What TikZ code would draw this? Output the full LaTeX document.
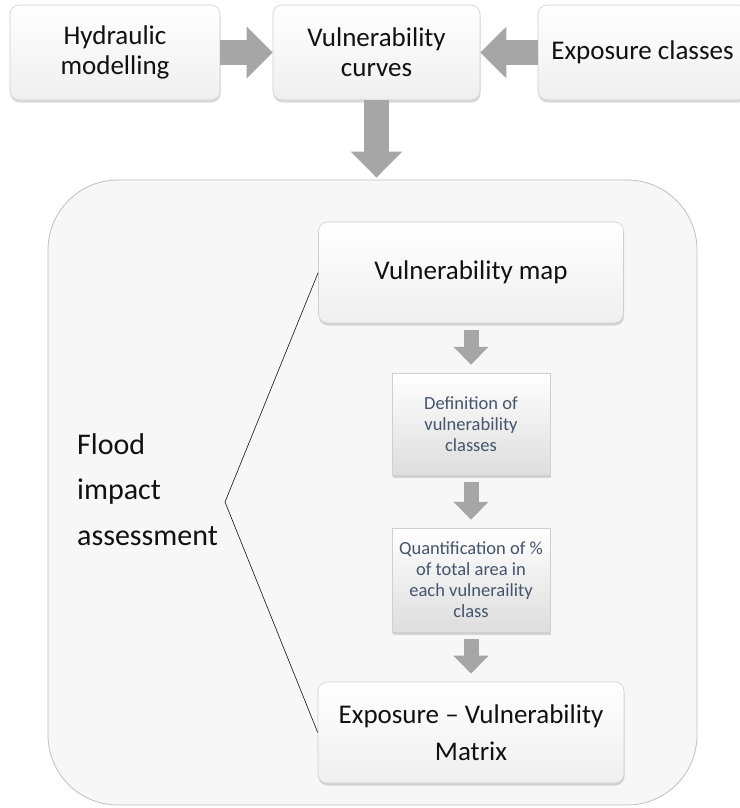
\documentclass[tikz,border=0pt]{standalone}
\usepackage{fontspec}
\setmainfont{Carlito}
\usetikzlibrary{arrows.meta,calc,positioning,shadows}
\definecolor{FlowInk}{HTML}{111111}
\definecolor{FlowSlate}{HTML}{44546A}
\definecolor{FlowArrow}{HTML}{A6A6A6}
\definecolor{FlowEdge}{HTML}{CFCFCF}
\definecolor{FlowPanel}{HTML}{F7F7F7}
\tikzset{
  every node/.style={text=FlowInk, inner sep=0pt},
  bevelbox/.style={draw=FlowEdge, line width=0.6pt, top color=white, bottom color=FlowPanel!80!FlowEdge, rounded corners=9pt, drop shadow={shadow xshift=0.5pt, shadow yshift=-2.5pt, opacity=0.3}, align=center, font=\fontsize{27}{30}\selectfont},
  notebox/.style={draw=FlowEdge, line width=0.5pt, top color=white, bottom color=FlowEdge!70, drop shadow={shadow xshift=1pt, shadow yshift=-2.5pt, opacity=0.3}, align=center, text=FlowSlate, font=\fontsize{18.5}{21}\selectfont, minimum width=158pt},
  panel/.style={draw=gray!50, line width=0.8pt, fill=FlowPanel, rounded corners=70pt},
  bigarrow/.style={-{Triangle[length=26pt,width=50pt]}, draw=FlowArrow, line width=25pt},
  smallarrow/.style={-{Triangle[length=18pt,width=34pt]}, draw=FlowArrow, line width=15pt, shorten <=7pt, shorten >=8pt},
  brace/.style={draw=FlowInk, line width=0.6pt},
}
\begin{document}
\begin{tikzpicture}[x=1pt,y=-1pt]
  \useasboundingbox (0,0) rectangle (739,808);
  % outer panel
  \node[panel, minimum width=649pt, minimum height=625pt] (impact) at (372.5,492.5) {};
  % top row
  \node[bevelbox, minimum width=210pt, minimum height=95pt] (hydro) at (115,52.5) {Hydraulic\\modelling};
  \node[bevelbox, minimum width=207pt, minimum height=95pt] (curves) at (376.5,52.5) {Vulnerability\\curves};
  \node[bevelbox, minimum width=209pt, minimum height=95pt] (expo) at (642.5,52.5) {Exposure classes};
  \draw[bigarrow] (hydro.east) -- (curves.west);
  \draw[bigarrow] (expo.west) -- (curves.east);
  \draw[bigarrow, shorten >=2pt] (curves.south) -- (curves.south |- impact.north);
  % inside the panel
  \node[font=\fontsize{30}{45.5}\selectfont, align=left, anchor=north west] (floodlbl) at (77,433) {Flood\\impact\\assessment};
  \node[bevelbox, minimum width=305pt, minimum height=101pt] (vmap) at (471,272.5) {Vulnerability map};
  \node[notebox, minimum height=102pt] (defcls) at (471,424) {Definition of\\vulnerability\\classes};
  \node[notebox, minimum height=104pt] (quant) at (471,580) {Quantification of \%\\of total area in\\each vulneraility\\class};
  \node[bevelbox, minimum width=306pt, minimum height=101pt, font=\fontsize{27}{37}\selectfont] (matrix) at (471,732.5) {Exposure – Vulnerability\\Matrix};
  \draw[smallarrow] (vmap.south) -- (defcls.north);
  \draw[smallarrow] (defcls.south) -- (quant.north);
  \draw[smallarrow] (quant.south) -- (matrix.north);
  % bracket
  \coordinate (apex) at (225,502);
  \draw[brace] (vmap.west) -- (apex) -- (matrix.west);
\end{tikzpicture}
\end{document}
